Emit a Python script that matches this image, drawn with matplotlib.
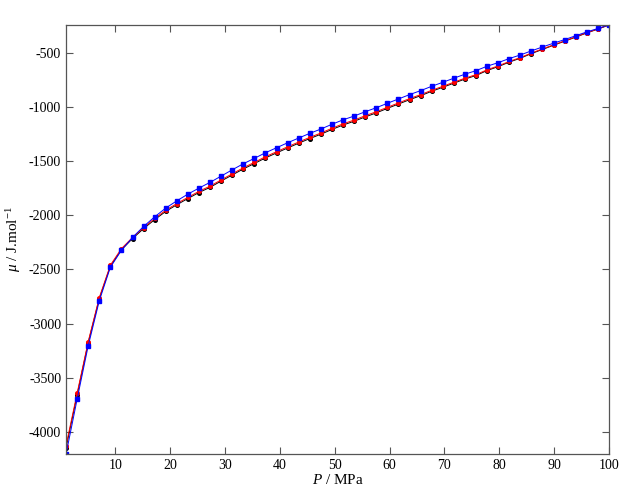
import matplotlib
matplotlib.use("Agg")
import matplotlib.pyplot as plt

plt.rcParams['font.family'] = ['Liberation Serif', 'DejaVu Serif']
plt.rcParams['mathtext.fontset'] = 'custom'
plt.rcParams['mathtext.rm'] = 'Liberation Serif'
plt.rcParams['mathtext.it'] = 'Liberation Serif:italic'
plt.rcParams['axes.unicode_minus'] = False

# pressure (MPa)
P = [1.00, 3.02, 5.04, 7.06, 9.08, 11.10, 13.12, 15.14, 17.16, 19.18,
     21.20, 23.22, 25.24, 27.27, 29.29, 31.31, 33.33, 35.35, 37.37, 39.39,
     41.41, 43.43, 45.45, 47.47, 49.49, 51.51, 53.53, 55.55, 57.57, 59.59,
     61.61, 63.63, 65.65, 67.67, 69.69, 71.71, 73.73, 75.76, 77.78, 79.80,
     81.82, 83.84, 85.86, 87.88, 89.90, 91.92, 93.94, 95.96, 97.98, 100.00]

# chemical potential (J/mol)
mu_blue = [-4208, -3700, -3207, -2790, -2480, -2322, -2204, -2102, -2013, -1932,
           -1865, -1803, -1747, -1694, -1636, -1578, -1522, -1472, -1420, -1374,
           -1328, -1284, -1241, -1201, -1157, -1116, -1081, -1041, -1004, -963,
           -923, -883, -846, -806, -769, -731, -694, -661, -620, -587,
           -549, -516, -478, -442, -407, -374, -338, -303, -271, -238]

mu_red = [-4128, -3645, -3167, -2760, -2460, -2307, -2204, -2112, -2028, -1952,
          -1890, -1833, -1777, -1729, -1671, -1615, -1559, -1509, -1457, -1411,
          -1365, -1321, -1278, -1238, -1194, -1153, -1118, -1078, -1041, -1000,
          -960, -920, -883, -843, -806, -768, -731, -698, -653, -617,
          -576, -540, -498, -460, -422, -386, -348, -310, -275, -238]

mu_black = [-4150, -3660, -3178, -2770, -2470, -2318, -2214, -2122, -2039, -1963,
            -1901, -1844, -1788, -1740, -1682, -1626, -1570, -1520, -1468, -1422,
            -1376, -1332, -1289, -1249, -1205, -1164, -1129, -1089, -1052, -1010,
            -970, -930, -893, -852, -815, -777, -739, -706, -660, -624,
            -582, -546, -503, -465, -426, -389, -351, -312, -277, -239]

fig = plt.figure(figsize=(6.35, 4.98), dpi=100)
ax = fig.add_axes([0.104, 0.088, 0.855, 0.862])

ax.plot(P, mu_black, '-', color='black', lw=0.7, marker='o', ms=2.6)
ax.plot(P, mu_red, '-', color='red', lw=0.7, marker='o', ms=2.6)
ax.plot(P, mu_blue, '-', color='blue', lw=0.7, marker='s', ms=2.6)

ax.set_xlim(1, 100)
ax.set_ylim(min(mu_blue), max(mu_blue))
ax.set_xticks(range(10, 101, 10))
ax.set_yticks(range(-4000, -499, 500))

ax.tick_params(direction='in', top=True, right=True, length=5, width=0.8,
               labelsize=10, color='#555555')
for s in ax.spines.values():
    s.set_color('#555555')
    s.set_linewidth(0.9)

ax.set_xlabel(r'$P$ / MPa', fontsize=11, labelpad=1)
ax.set_ylabel(r'$\mu$ / J.mol$^{-1}$', fontsize=11, labelpad=4)

fig.savefig('out.png', dpi=100)
